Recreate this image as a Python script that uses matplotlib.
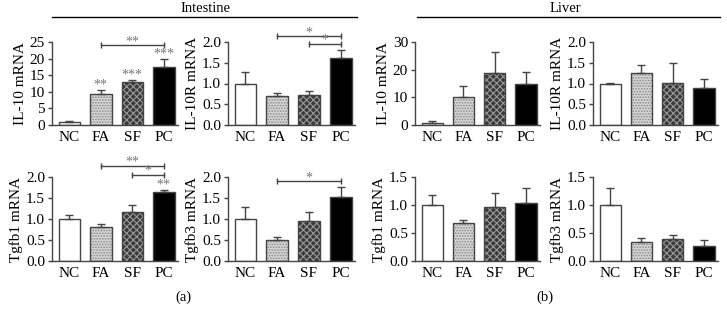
import numpy as np
import matplotlib.pyplot as plt

plt.rcParams['font.family'] = ['Liberation Serif', 'DejaVu Serif']
plt.rcParams['hatch.linewidth'] = 0.8

groups = ['NC', 'FA', 'SF', 'PC']

# intestine
int_il10 = [0.8, 9.4, 13.0, 17.5]
int_il10_err = [0.4, 1.2, 0.7, 2.3]
int_il10r = [1.0, 0.70, 0.72, 1.62]
int_il10r_err = [0.28, 0.06, 0.10, 0.18]
int_tgfb1 = [1.0, 0.80, 1.16, 1.65]
int_tgfb1_err = [0.09, 0.07, 0.17, 0.05]
int_tgfb3 = [1.0, 0.50, 0.95, 1.52]
int_tgfb3_err = [0.28, 0.08, 0.22, 0.24]

# liver
liv_il10 = [0.8, 10.0, 18.8, 14.8]
liv_il10_err = [0.5, 4.0, 7.5, 4.5]
liv_il10r = [0.98, 1.25, 1.02, 0.88]
liv_il10r_err = [0.04, 0.20, 0.47, 0.24]
liv_tgfb1 = [1.0, 0.67, 0.96, 1.03]
liv_tgfb1_err = [0.17, 0.06, 0.25, 0.27]
liv_tgfb3 = [1.0, 0.34, 0.39, 0.26]
liv_tgfb3_err = [0.30, 0.07, 0.08, 0.12]

face = ['white', '#d4d4d4', '#3a3a3a', 'black']
hatch = [None, '......', 'xxxxx', None]
hatch_col = ['white', '#8a8a8a', '#9a9a9a', 'black']
line_col = '#444444'


def bars(ax, vals, errs, ylim, ticks, ylabel, fmt):
    x = np.arange(4)
    ax.bar(x, vals, 0.68, color=face, hatch=hatch, edgecolor=hatch_col, linewidth=0)
    ax.bar(x, vals, 0.68, fill=False, edgecolor=line_col, linewidth=1.0)
    ax.errorbar(x, vals, yerr=[np.zeros(4), errs], fmt='none', ecolor=line_col,
                elinewidth=1.0, capsize=3, capthick=1.0)
    ax.set_xlim(-0.55, 3.45)
    ax.set_ylim(*ylim)
    ax.set_yticks(ticks)
    ax.set_yticklabels([fmt.format(t) for t in ticks])
    ax.set_xticks(x)
    ax.set_xticklabels(groups)
    ax.set_ylabel(ylabel, fontsize=11, labelpad=2)
    for s in ['top', 'right']:
        ax.spines[s].set_visible(False)
    for s in ['left', 'bottom']:
        ax.spines[s].set_color(line_col)
        ax.spines[s].set_linewidth(1.0)
    ax.tick_params(axis='both', labelsize=11, color=line_col, width=1.0, pad=2)
    ax.tick_params(axis='x', length=0, pad=4)
    ax.tick_params(axis='y', length=3)


def stars(ax, i, y, txt):
    # asterisks sit high in the glyph box, so anchor at the baseline
    ax.annotate(txt, (i, y), xytext=(0, 0), textcoords='offset points',
                ha='center', va='baseline', fontsize=10, color='#777777',
                annotation_clip=False)


def bracket(ax, i, j, y, txt):
    ax.plot([i, j], [y, y], color=line_col, lw=1.0, clip_on=False,
            marker='|', markersize=5, markeredgewidth=1.0)
    stars(ax, (i + j) / 2, y, txt)


fig = plt.figure(figsize=(7.27, 3.27), dpi=100)

W, H = 727, 327
cols = [52, 228, 415, 593]
widths = [126, 127, 125, 125]
rows = [(42, 125), (177, 261)]


def make(col, row):
    x0 = cols[col]
    y0, y1 = rows[row]
    return fig.add_axes([x0 / W, 1 - y1 / H, widths[col] / W, (y1 - y0) / H])


ax = make(0, 0)
bars(ax, int_il10, int_il10_err, (0, 25), [0, 5, 10, 15, 20, 25], 'IL-10 mRNA', '{:g}')
stars(ax, 1, 10.9, '**')
stars(ax, 2, 14.0, '***')
stars(ax, 3, 20.2, '***')
bracket(ax, 1, 3, 24.0, '**')

ax = make(1, 0)
bars(ax, int_il10r, int_il10r_err, (0, 2), [0, 0.5, 1.0, 1.5, 2.0], 'IL-10R mRNA', '{:.1f}')
bracket(ax, 1, 3, 2.14, '*')
bracket(ax, 2, 3, 1.96, '*')

ax = make(0, 1)
bars(ax, int_tgfb1, int_tgfb1_err, (0, 2), [0, 0.5, 1.0, 1.5, 2.0], 'Tgfb1 mRNA', '{:.1f}')
stars(ax, 3, 1.72, '**')
bracket(ax, 1, 3, 2.27, '**')
bracket(ax, 2, 3, 2.05, '*')

ax = make(1, 1)
bars(ax, int_tgfb3, int_tgfb3_err, (0, 2), [0, 0.5, 1.0, 1.5, 2.0], 'Tgfb3 mRNA', '{:.1f}')
bracket(ax, 1, 3, 1.9, '*')

ax = make(2, 0)
bars(ax, liv_il10, liv_il10_err, (0, 30), [0, 10, 20, 30], 'IL-10 mRNA', '{:g}')

ax = make(3, 0)
bars(ax, liv_il10r, liv_il10r_err, (0, 2), [0, 0.5, 1.0, 1.5, 2.0], 'IL-10R mRNA', '{:.1f}')

ax = make(2, 1)
bars(ax, liv_tgfb1, liv_tgfb1_err, (0, 1.5), [0, 0.5, 1.0, 1.5], 'Tgfb1 mRNA', '{:.1f}')

ax = make(3, 1)
bars(ax, liv_tgfb3, liv_tgfb3_err, (0, 1.5), [0, 0.5, 1.0, 1.5], 'Tgfb3 mRNA', '{:.1f}')

# section headers
fig.add_artist(plt.Line2D([52 / W, 357 / W], [1 - 17 / H, 1 - 17 / H], color='black', lw=1.0))
fig.add_artist(plt.Line2D([417 / W, 720 / W], [1 - 17 / H, 1 - 17 / H], color='black', lw=1.0))
fig.text(205 / W, 1 - 8 / H, 'Intestine', ha='center', va='center', fontsize=10.5)
fig.text(565 / W, 1 - 8 / H, 'Liver', ha='center', va='center', fontsize=10.5)
fig.text(183 / W, 1 - 297 / H, '(a)', ha='center', va='center', fontsize=10.5)
fig.text(545 / W, 1 - 297 / H, '(b)', ha='center', va='center', fontsize=10.5)

fig.savefig('out.png', dpi=100)
